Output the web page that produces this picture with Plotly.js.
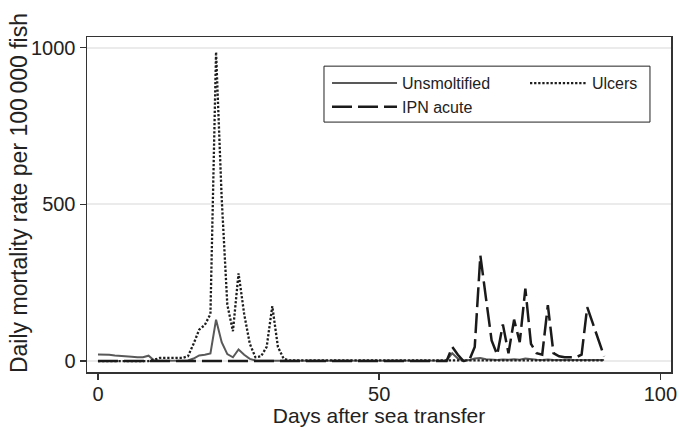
<!DOCTYPE html>
<html>
<head>
<meta charset="utf-8">
<script src="https://cdn.plot.ly/plotly-3.0.1.min.js"></script>
<style>html,body{margin:0;padding:0;background:#fff;}#chart{width:679px;height:431px;}</style>
</head>
<body>
<div id="chart"></div>
<script>
// Days after sea transfer
const days = Array.from({length: 91}, (_, i) => i);

// Daily mortality rate per 100 000 fish
const unsmoltified = [
  21, 21, 20, 18, 17, 17, 14, 12, 12, 17,
  2, 1, 1, 0, 0, 0, 2, 8, 18, 20,
  24, 132, 60, 22, 12, 37, 20, 7, 2, 1,
  1, 1, 1, 1, 1, 1, 1, 1, 1, 1,
  1, 1, 1, 1, 1, 1, 1, 1, 1, 1,
  1, 1, 1, 1, 1, 1, 1, 1, 1, 1,
  1, 1, 2, 25, 8, 1, 3, 8, 10, 6,
  4, 3, 5, 4, 6, 4, 8, 5, 4, 3,
  5, 3, 3, 4, 3, 3, 4, 3, 3, 3,
  3
];
const ulcers = [
  0, 0, 0, 0, 0, 0, 0, 0, 0, 0,
  4, 10, 10, 11, 10, 10, 15, 55, 100, 115,
  150, 986, 520, 180, 95, 280, 150, 55, 12, 15,
  45, 175, 45, 8, 2, 2, 2, 2, 2, 2,
  2, 2, 2, 2, 2, 2, 2, 2, 2, 2,
  2, 2, 2, 2, 2, 2, 2, 2, 2, 2,
  2, 2, 2, 3, 2, 2, 2, 3, 2, 2,
  2, 2, 2, 2, 2, 2, 2, 2, 2, 2,
  2, 2, 2, 2, 2, 2, 2, 2, 2, 2,
  2
];
const ipnAcute = [
  0, 0, 0, 0, 0, 0, 0, 0, 0, 0,
  0, 0, 0, 0, 0, 0, 0, 0, 0, 0,
  0, 0, 0, 0, 0, 0, 0, 0, 0, 0,
  0, 0, 0, 0, 0, 0, 0, 0, 0, 0,
  0, 0, 0, 0, 0, 0, 0, 0, 0, 0,
  0, 0, 0, 0, 0, 0, 0, 0, 0, 0,
  0, 0, 0, 45, 20, 0, 2, 45, 337, 200,
  66, 20, 117, 25, 132, 60, 231, 55, 25, 20,
  178, 25, 15, 12, 12, 12, 20, 172, 120, 70,
  15
];

const seriesNames = ['Unsmoltified', 'Ulcers', 'IPN acute'];
const xTicks = [0, 50, 100];
const yTicks = [0, 500, 1000];
const xTitle = 'Days after sea transfer';
const yTitle = 'Daily mortality rate per 100\u2009000 fish';

const fontFamily = 'Liberation Sans, Arial, Helvetica, sans-serif';

const traces = [
  {x: days, y: unsmoltified, name: seriesNames[0], type: 'scatter', mode: 'lines',
   legend: 'legend', line: {color: '#595959', width: 2}},
  {x: days, y: ulcers, name: seriesNames[1], type: 'scatter', mode: 'lines',
   legend: 'legend2', line: {color: '#1e1e1e', width: 2.3, dash: '2.3px,1.8px'}},
  {x: days, y: ipnAcute, name: seriesNames[2], type: 'scatter', mode: 'lines',
   legend: 'legend', line: {color: '#1a1a1a', width: 2.5, dash: '20px,6px'}}
];

const legendFont = {family: fontFamily, size: 16, color: '#222'};

const layout = {
  width: 679, height: 431,
  margin: {l: 87, r: 8, t: 37, b: 59, autoexpand: false},
  paper_bgcolor: '#ffffff', plot_bgcolor: '#ffffff',
  font: {family: fontFamily, color: '#222', size: 16},
  showlegend: true,
  legend: {
    orientation: 'v', x: 0.411, y: 0.913, xanchor: 'left', yanchor: 'top',
    borderwidth: 0, bgcolor: 'rgba(0,0,0,0)', font: legendFont,
    itemwidth: 65, traceorder: 'normal'
  },
  legend2: {
    orientation: 'v', x: 0.75, y: 0.913, xanchor: 'left', yanchor: 'top',
    borderwidth: 0, bgcolor: 'rgba(0,0,0,0)', font: legendFont,
    itemwidth: 57, traceorder: 'normal'
  },
  shapes: [{
    type: 'rect', xref: 'paper', yref: 'paper',
    x0: 0.4058, x1: 0.964, y0: 0.746, y1: 0.913,
    line: {color: '#222', width: 1}, fillcolor: 'rgba(0,0,0,0)', layer: 'above'
  }],
  annotations: [{
    text: yTitle, xref: 'paper', yref: 'paper',
    x: -0.116, y: 0.535, xanchor: 'center', yanchor: 'middle',
    textangle: -90, showarrow: false,
    font: {family: fontFamily, size: 23, color: '#222'}
  }],
  xaxis: {
    range: [-1.95, 101.9], tickvals: xTicks, ticktext: xTicks.map(String),
    ticks: 'outside', ticklen: 6, tickwidth: 1.5, tickcolor: '#333',
    showline: true, mirror: true, linecolor: '#333', linewidth: 1.5,
    showgrid: false, zeroline: false, ticklabelstandoff: -3,
    tickfont: {family: fontFamily, size: 20, color: '#222'},
    title: {text: xTitle, font: {family: fontFamily, size: 21, color: '#222'}, standoff: 3}
  },
  yaxis: {
    range: [-35, 1034], tickvals: yTicks, ticktext: yTicks.map(String),
    ticks: 'outside', ticklen: 6, tickwidth: 1.5, tickcolor: '#333',
    showline: true, mirror: true, linecolor: '#333', linewidth: 1.5,
    showgrid: true, gridcolor: '#ebebeb', gridwidth: 2, zeroline: false,
    tickfont: {family: fontFamily, size: 20, color: '#222'}
  }
};

Plotly.newPlot('chart', traces, layout, {displayModeBar: false, staticPlot: true});
</script>
</body>
</html>
